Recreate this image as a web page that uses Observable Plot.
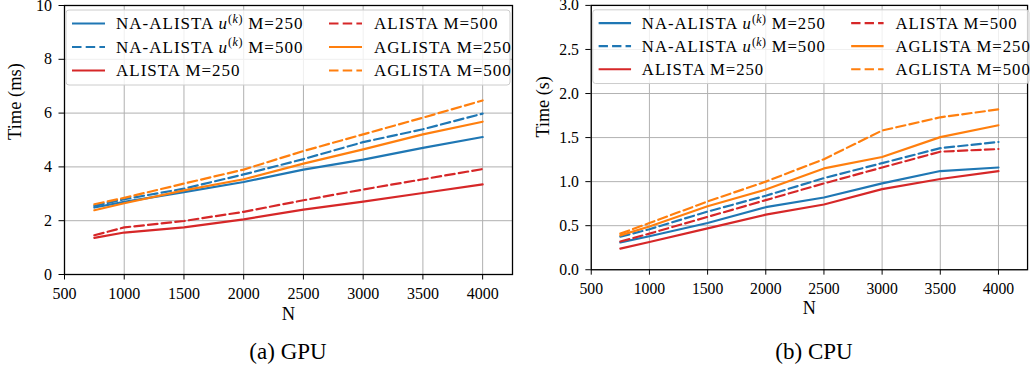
<!DOCTYPE html>
<html><head><meta charset="utf-8">
<script src="https://cdn.jsdelivr.net/npm/d3@7"></script>
<script src="https://cdn.jsdelivr.net/npm/@observablehq/plot@0.6"></script>
<style>
body{margin:0;background:#fff;overflow:hidden}
#wrap{position:relative;width:1031px;height:368px;overflow:hidden;font-family:"Liberation Serif",serif;background:#fff}
.panel{position:absolute;top:0}
.cap{position:absolute;top:338px;font-size:23px;line-height:28px;transform:translateX(-50%);white-space:nowrap;color:#000}
</style></head><body><div id="wrap"></div>
<script>
// ---- data ----
const N = [750, 1000, 1500, 2000, 2500, 3000, 3500, 4000];
const xTicks = [500, 1000, 1500, 2000, 2500, 3000, 3500, 4000];
const gpuTicks = [0, 2, 4, 6, 8, 10];
const cpuTicks = [0, 0.5, 1.0, 1.5, 2.0, 2.5, 3.0];
const seriesMethod = ["NA-ALISTA", "NA-ALISTA", "ALISTA", "ALISTA", "AGLISTA", "AGLISTA"];
const seriesM = [250, 500, 250, 500, 250, 500];
const seriesColor = ["#1f77b4", "#1f77b4", "#d62728", "#d62728", "#ff7f0e", "#ff7f0e"];
const seriesDashed = [false, true, false, true, false, true];

// GPU times (ms)
const gpuNA250 = [2.49, 2.70, 3.06, 3.44, 3.90, 4.27, 4.71, 5.11];
const gpuNA500 = [2.55, 2.80, 3.19, 3.72, 4.29, 4.92, 5.40, 5.98];
const gpuAL250 = [1.36, 1.56, 1.75, 2.05, 2.41, 2.71, 3.03, 3.35];
const gpuAL500 = [1.46, 1.75, 1.99, 2.33, 2.76, 3.16, 3.54, 3.92];
const gpuAG250 = [2.39, 2.65, 3.13, 3.54, 4.12, 4.65, 5.21, 5.68];
const gpuAG500 = [2.61, 2.85, 3.38, 3.90, 4.59, 5.21, 5.83, 6.47];

// CPU times (s)
const cpuNA250 = [0.31, 0.38, 0.53, 0.71, 0.82, 0.98, 1.12, 1.16];
const cpuNA500 = [0.375, 0.46, 0.66, 0.84, 1.04, 1.21, 1.38, 1.45];
const cpuAL250 = [0.24, 0.315, 0.47, 0.625, 0.74, 0.915, 1.03, 1.12];
const cpuAL500 = [0.32, 0.41, 0.60, 0.79, 0.98, 1.16, 1.34, 1.37];
const cpuAG250 = [0.39, 0.49, 0.72, 0.91, 1.15, 1.28, 1.505, 1.64];
const cpuAG500 = [0.41, 0.53, 0.775, 1.0, 1.255, 1.58, 1.73, 1.82];

const gpuSeries = [gpuNA250, gpuNA500, gpuAL250, gpuAL500, gpuAG250, gpuAG500];
const cpuSeries = [cpuNA250, cpuNA500, cpuAL250, cpuAL500, cpuAG250, cpuAG500];

const FONT = "Liberation Serif";
const wrap = document.getElementById("wrap");

function addLegend(svg, bx, by) {
  const g = d3.select(svg).append("g").attr("font-family", FONT).attr("font-size", 17)
    .attr("text-anchor", "start");
  g.append("rect").attr("x", bx).attr("y", by).attr("width", 444).attr("height", 75)
    .attr("rx", 3).attr("fill", "white").attr("fill-opacity", 0.8)
    .attr("stroke", "#cccccc").attr("stroke-width", 1);
  const rowsY = [23.5, 47, 70.5];
  seriesMethod.forEach((m, i) => {
    const col = i < 3 ? 0 : 1;
    const row = i % 3;
    const hx = bx + (col === 0 ? 6 : 263);
    const tx = bx + (col === 0 ? 50 : 308);
    const y = rowsY[row];
    g.append("line").attr("x1", hx).attr("x2", hx + 33).attr("y1", y).attr("y2", y)
      .attr("stroke", seriesColor[i]).attr("stroke-width", 2.2)
      .attr("stroke-dasharray", seriesDashed[i] ? "9.5,4.2" : null);
    const t = g.append("text").attr("x", tx).attr("y", y).attr("dy", "0.35em")
      .attr("fill", "black").attr("text-anchor", "start").attr("letter-spacing", "1px");
    if (m === "NA-ALISTA") {
      t.append("tspan").text("NA-ALISTA ");
      t.append("tspan").attr("font-style", "italic").text("u");
      t.append("tspan").attr("dy", -6.5).attr("font-size", 12).attr("letter-spacing", "0.5px").text("(");
      t.append("tspan").attr("font-size", 12).attr("font-style", "italic").attr("letter-spacing", "0.5px").text("k");
      t.append("tspan").attr("font-size", 12).attr("letter-spacing", "0.5px").text(")");
      t.append("tspan").attr("dy", 6.5).text(" M=" + seriesM[i]);
    } else {
      t.text(m + " M=" + seriesM[i]);
    }
  });
}

function panel({series, yDomain, yTicks, yFormat, yLabel, left, marginLeft, marginRight, width, labelDx}) {
  const marks = [
    Plot.gridX(xTicks, {stroke: "#b0b0b0", strokeOpacity: 1, strokeWidth: 1}),
    Plot.gridY(yTicks, {stroke: "#b0b0b0", strokeOpacity: 1, strokeWidth: 1}),
  ];
  series.forEach((vals, i) => {
    const rows = N.map((n, j) => ({N: n, t: vals[j]}));
    marks.push(Plot.line(rows, {
      x: "N", y: "t", stroke: seriesColor[i], strokeWidth: 2.2,
      strokeDasharray: seriesDashed[i] ? "9.5,4.2" : undefined
    }));
  });
  marks.push(
    Plot.frame({stroke: "black", strokeWidth: 1.3}),
    Plot.axisX(xTicks, {tickSize: 5.5, tickPadding: 8, label: null, tickFormat: d3.format("d"), fontSize: 16}),
    Plot.axisY(yTicks, {tickSize: 5.5, tickPadding: 7, label: null, tickFormat: yFormat, fontSize: 16}),
    Plot.text(["N"], {frameAnchor: "bottom", dy: 45, fontSize: 18.5, fill: "black"}),
    Plot.text([yLabel], {frameAnchor: "left", dx: labelDx, rotate: -90, fontSize: 18.5, fill: "black"})
  );
  const chart = Plot.plot({
    width, height: 330, marginTop: 5, marginBottom: 56, marginLeft, marginRight,
    style: {fontFamily: FONT, fontSize: "16px", background: "white", color: "black", overflow: "visible"},
    x: {domain: [500, 4250]},
    y: {domain: yDomain},
    marks
  });
  addLegend(chart, marginLeft + 2, 10);
  const div = document.createElement("div");
  div.className = "panel";
  div.style.left = left + "px";
  div.appendChild(chart);
  wrap.appendChild(div);
}

panel({series: gpuSeries, yDomain: [0, 10], yTicks: gpuTicks, yFormat: d3.format("d"),
  yLabel: "Time (ms)", left: 0, marginLeft: 64, marginRight: 8, width: 520, labelDx: -49});
panel({series: cpuSeries, yDomain: [0, 3], yTicks: cpuTicks, yFormat: d3.format(".1f"),
  yLabel: "Time (s)", left: 520, marginLeft: 72, marginRight: 4, width: 520, labelDx: -49});

const capA = document.createElement("div");
capA.className = "cap"; capA.style.left = "288px"; capA.textContent = "(a) GPU";
wrap.appendChild(capA);
const capB = document.createElement("div");
capB.className = "cap"; capB.style.left = "814px"; capB.textContent = "(b) CPU";
wrap.appendChild(capB);
</script>
</body></html>
